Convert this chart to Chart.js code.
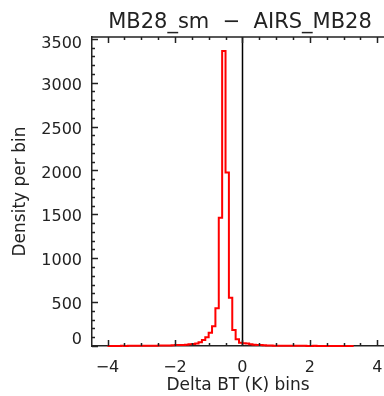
<!DOCTYPE html>
<html>
<head>
<meta charset="utf-8">
<script src="https://cdn.jsdelivr.net/npm/chart.js@4/dist/chart.umd.min.js"></script>
<style>
  html, body { margin: 0; padding: 0; background: #fff; overflow: hidden; }
</style>
</head>
<body>
<canvas id="histChart" width="384" height="396"></canvas>
<script>
const chartTitle = "MB28_sm  \u2212  AIRS_MB28";
const xLabel = "Delta BT (K) bins";
const yLabel = "Density per bin";

// histogram: left edge of the first bin, bin width (K), counts per bin
const binStart = -4.0;
const binWidth = 0.1;
const binCounts = [
  1, 1, 1, 1, 1, 2, 1, 2, 2, 2,
  2, 3, 3, 3, 4, 4, 5, 5, 6, 7,
  9, 10, 11, 12, 14, 20, 24, 28, 42, 68,
  99, 152, 225, 430, 1460, 3360, 1976, 550, 182, 76,
  38, 32, 28, 20, 15, 12, 10, 9, 6, 5,
  4, 4, 3, 3, 3, 2, 2, 2, 2, 2,
  1, 1, 2, 1, 1, 1, 1, 1, 1, 0, 1, 1, 0
];

const xTicks = [-4, -2, 0, 2, 4];
const yTicks = [0, 500, 1000, 1500, 2000, 2500, 3000, 3500];
const xRange = [-4.46, 4.2];
const yRange = [0, 3520];
const xMinorStep = 0.5;
const yMinorStep = 100;
const zeroLine = 0;

const FONT = "'DejaVu Sans', sans-serif";
const INK = "#222";

// step points: one per bin left edge, plus the right edge of the last bin
const points = binCounts.map((c, i) => ({ x: +(binStart + i * binWidth).toFixed(2), y: c }));
points.push({
  x: +(binStart + binCounts.length * binWidth).toFixed(2),
  y: binCounts[binCounts.length - 1],
});

const minus = (v) => String(v).replace("-", "\u2212");

// IDL-style frame: inward ticks, top axis, zero line, y labels, title
const frame = {
  id: "frame",
  beforeDatasetsDraw(chart) {
    const { ctx, chartArea: a, scales: { x } } = chart;
    const px = Math.round(x.getPixelForValue(zeroLine)) + 0.5;
    ctx.save();
    ctx.strokeStyle = "#000";
    ctx.lineWidth = 1.5;
    ctx.beginPath();
    ctx.moveTo(px, a.top);
    ctx.lineTo(px, a.bottom);
    ctx.stroke();
    ctx.restore();
  },
  afterDraw(chart) {
    const { ctx, chartArea: a, scales: { x, y } } = chart;
    ctx.save();
    ctx.strokeStyle = INK;
    ctx.lineWidth = 1.5;
    ctx.beginPath();
    ctx.moveTo(a.left, a.top);
    ctx.lineTo(a.right, a.top);
    // x ticks, bottom and top
    for (let v = xTicks[0]; v <= xTicks[xTicks.length - 1] + 1e-9; v += xMinorStep) {
      const p = Math.round(x.getPixelForValue(v)) + 0.5;
      const len = xTicks.includes(v) ? 6 : 3;
      ctx.moveTo(p, a.bottom);
      ctx.lineTo(p, a.bottom - len);
      ctx.moveTo(p, a.top);
      ctx.lineTo(p, a.top + len);
    }
    // y ticks, left
    for (let v = yRange[0]; v <= yRange[1]; v += yMinorStep) {
      const p = Math.round(y.getPixelForValue(v)) + 0.5;
      const len = yTicks.includes(v) ? 6 : 3;
      ctx.moveTo(a.left, p);
      ctx.lineTo(a.left + len, p);
    }
    ctx.stroke();

    // y tick labels, kept inside the axis span like IDL does
    ctx.fillStyle = INK;
    ctx.font = "16px " + FONT;
    ctx.textAlign = "right";
    ctx.textBaseline = "middle";
    yTicks.forEach((v) => {
      let p = y.getPixelForValue(v) + 3;
      p = Math.min(Math.max(p, a.top + 7), a.bottom - 6);
      ctx.fillText(minus(v), a.left - 10, p);
    });

    ctx.font = "21px " + FONT;
    ctx.textAlign = "center";
    ctx.textBaseline = "alphabetic";
    ctx.fillText(chartTitle, (a.left + a.right) / 2 + 2, 28);
    ctx.restore();
  },
};

new Chart(document.getElementById("histChart").getContext("2d"), {
  type: "line",
  data: {
    datasets: [
      {
        data: points,
        borderColor: "#ff0000",
        borderWidth: 2,
        stepped: "after",
        pointRadius: 0,
        fill: false,
        clip: false,
      },
    ],
  },
  options: {
    responsive: false,
    animation: false,
    devicePixelRatio: 1,
    layout: { padding: { top: 37, left: 0, right: 0, bottom: 0 } },
    plugins: {
      legend: { display: false },
      tooltip: { enabled: false },
    },
    scales: {
      x: {
        type: "linear",
        min: xRange[0],
        max: xRange[1],
        grid: { display: false, drawTicks: false },
        border: { display: true, color: INK, width: 1.5 },
        afterBuildTicks: (s) => { s.ticks = xTicks.map((v) => ({ value: v })); },
        ticks: {
          color: INK,
          font: { family: FONT, size: 16 },
          padding: 12,
          maxRotation: 0,
          callback: (v) => minus(v),
        },
        title: {
          display: true,
          text: xLabel,
          color: INK,
          font: { family: FONT, size: 17 },
          padding: { top: 2, bottom: 0 },
        },
        afterFit: (s) => {
          s.height = 50;
          s.paddingLeft = 0;
          s.paddingRight = 0;
        },
      },
      y: {
        type: "linear",
        min: yRange[0],
        max: yRange[1],
        grid: { display: false, drawTicks: false },
        border: { display: true, color: INK, width: 1.5 },
        afterBuildTicks: (s) => { s.ticks = yTicks.map((v) => ({ value: v })); },
        ticks: { display: false },
        title: {
          display: true,
          text: yLabel,
          color: INK,
          font: { family: FONT, size: 17 },
          padding: { top: 10, bottom: 0 },
        },
        afterFit: (s) => {
          s.width = 92;
          s.paddingTop = 0;
          s.paddingBottom = 0;
        },
      },
    },
  },
  plugins: [frame],
});
</script>
</body>
</html>
